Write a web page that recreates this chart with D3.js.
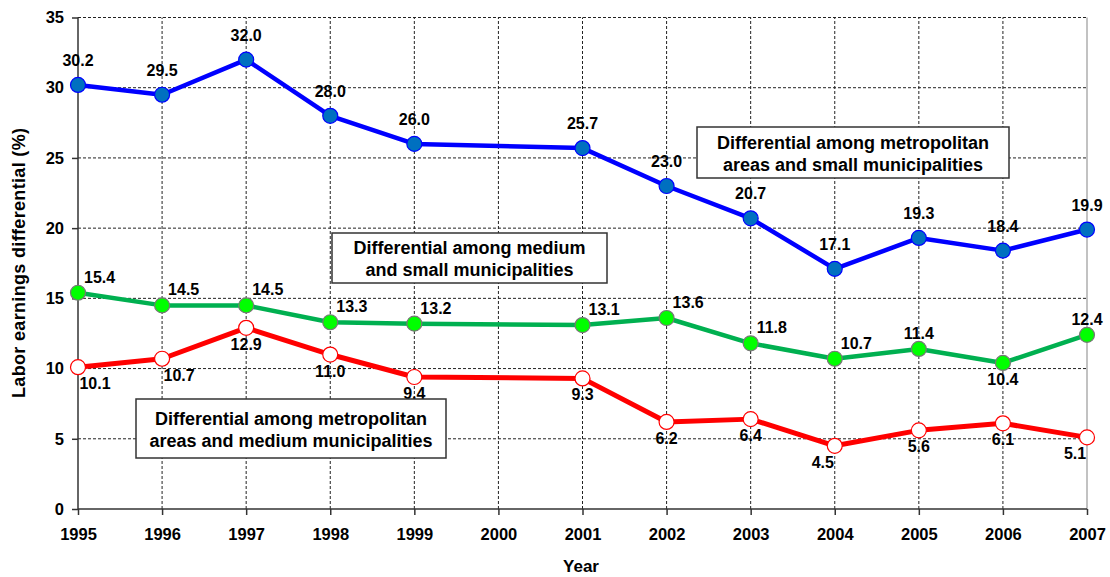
<!DOCTYPE html>
<html>
<head>
<meta charset="utf-8">
<script src="https://cdn.jsdelivr.net/npm/d3@7.9.0/dist/d3.min.js"></script>
<style>
  body { margin: 0; background: #fff; }
  text { font-family: "Liberation Sans", Arial, sans-serif; font-weight: bold; fill: #000; }
</style>
</head>
<body>
<svg id="chart" width="1110" height="577"></svg>
<script>
const years = [1995, 1996, 1997, 1998, 1999, 2001, 2002, 2003, 2004, 2005, 2006, 2007];
const metroSmall = [30.2, 29.5, 32.0, 28.0, 26.0, 25.7, 23.0, 20.7, 17.1, 19.3, 18.4, 19.9];
const mediumSmall = [15.4, 14.5, 14.5, 13.3, 13.2, 13.1, 13.6, 11.8, 10.7, 11.4, 10.4, 12.4];
const metroMedium = [10.1, 10.7, 12.9, 11.0, 9.4, 9.3, 6.2, 6.4, 4.5, 5.6, 6.1, 5.1];
const xTicks = d3.range(1995, 2008);
const yTicks = [0, 5, 10, 15, 20, 25, 30, 35];

// where each value label sits relative to its point
const greenLabelPos = ['r', 'r', 'r', 'r', 'r', 'r', 'r', 'r', 'r', 'c', 'b', 'c'];
const redLabelPos = ['br', 'br', 'b', 'b', 'b', 'b', 'b', 'b', 'bl', 'b', 'b', 'bl'];

const svg = d3.select('#chart');
const x = d3.scaleLinear().domain([1995, 2007]).range([78, 1087]);
const y = d3.scaleLinear().domain([0, 35]).range([509, 17.5]);

// grid
svg.append('g').selectAll('line').data(yTicks.slice(1)).join('line')
  .attr('x1', x(1995)).attr('x2', x(2007))
  .attr('y1', d => y(d)).attr('y2', d => y(d))
  .attr('stroke', '#222').attr('stroke-width', 1).attr('stroke-dasharray', '3,2');
svg.append('g').selectAll('line').data(xTicks.slice(1, -1)).join('line')
  .attr('x1', d => x(d)).attr('x2', d => x(d))
  .attr('y1', y(0)).attr('y2', y(35))
  .attr('stroke', '#222').attr('stroke-width', 1).attr('stroke-dasharray', '3,2');
svg.append('line')
  .attr('x1', x(2007)).attr('x2', x(2007)).attr('y1', y(0)).attr('y2', y(35))
  .attr('stroke', '#999').attr('stroke-width', 1.2);

// axes
const xAxis = svg.append('g').attr('transform', `translate(0,${y(0)})`)
  .call(d3.axisBottom(x).tickValues(xTicks).tickFormat(d3.format('d')).tickSize(6).tickPadding(13));
const yAxis = svg.append('g').attr('transform', `translate(${x(1995)},0)`)
  .call(d3.axisLeft(y).tickValues(yTicks).tickSize(6).tickPadding(8));
[xAxis, yAxis].forEach(g => {
  g.selectAll('path, line').attr('stroke', '#333').attr('stroke-width', 1.5);
  g.selectAll('text').style('font-size', '16.5px').attr('fill', '#000')
    .style('font-family', '"Liberation Sans", Arial, sans-serif').style('font-weight', 'bold');
});
xAxis.select('.domain').attr('d', `M${x(1995)},0H${x(2007)}`);
yAxis.select('.domain').attr('d', `M0,${y(0)}V${y(35)}`);

svg.append('text').attr('x', 581).attr('y', 572).attr('text-anchor', 'middle')
  .style('font-size', '17px').text('Year');
svg.append('text').attr('transform', 'translate(25,263) rotate(-90)').attr('text-anchor', 'middle')
  .style('font-size', '18px').attr('textLength', 270).attr('lengthAdjust', 'spacing')
  .text('Labor earnings differential (%)');

// series
function drawSeries(values, line, width, fill, stroke) {
  const pts = years.map((yr, i) => [yr, values[i]]);
  svg.append('path').datum(pts)
    .attr('d', d3.line().x(d => x(d[0])).y(d => y(d[1])))
    .attr('fill', 'none').attr('stroke', line).attr('stroke-width', width)
    .attr('stroke-linejoin', 'round');
  svg.append('g').selectAll('circle').data(pts).join('circle')
    .attr('cx', d => x(d[0])).attr('cy', d => y(d[1])).attr('r', 7.5)
    .attr('fill', fill).attr('stroke', stroke).attr('stroke-width', 1.2);
}
drawSeries(metroMedium, '#ff0000', 5, '#fff', '#ff0000');
drawSeries(mediumSmall, '#00b050', 4.5, '#00ff00', '#777');
drawSeries(metroSmall, '#0000ff', 4.5, '#0070c0', '#0000ff');

// value labels
const fmt = d3.format('.1f');
function labels(values, place) {
  svg.append('g').selectAll('text').data(values).join('text')
    .style('font-size', '16px')
    .attr('x', (d, i) => {
      const p = place(i);
      return x(years[i]) + (p === 'r' ? 6 : p === 'br' ? 17 : p === 'bl' ? -12 : 0);
    })
    .attr('y', (d, i) => {
      const p = place(i);
      return y(d) + (p === 'a' ? -19 : p === 'r' || p === 'c' ? -10 : 22);
    })
    .attr('text-anchor', (d, i) => place(i) === 'r' ? 'start' : 'middle')
    .text(d => fmt(d));
}
labels(metroSmall, () => 'a');
labels(mediumSmall, i => greenLabelPos[i]);
labels(metroMedium, i => redLabelPos[i]);

// annotation boxes
const notes = [
  { lines: ['Differential among metropolitan', 'areas and small municipalities'], box: [697, 127, 312, 51] },
  { lines: ['Differential among medium', 'and small municipalities'], box: [332, 233, 275, 50] },
  { lines: ['Differential among metropolitan', 'areas and medium municipalities'], box: [136, 399, 310, 59] }
];
notes.forEach(n => {
  const [bx, by, bw, bh] = n.box;
  svg.append('rect').attr('x', bx).attr('y', by).attr('width', bw).attr('height', bh)
    .attr('fill', '#fff').attr('stroke', '#333').attr('stroke-width', 1.5);
  n.lines.forEach((t, k) => {
    svg.append('text').attr('x', bx + bw / 2).attr('y', by + bh / 2 - 4 + k * 22)
      .attr('text-anchor', 'middle').style('font-size', '18px').text(t);
  });
});
</script>
</body>
</html>
